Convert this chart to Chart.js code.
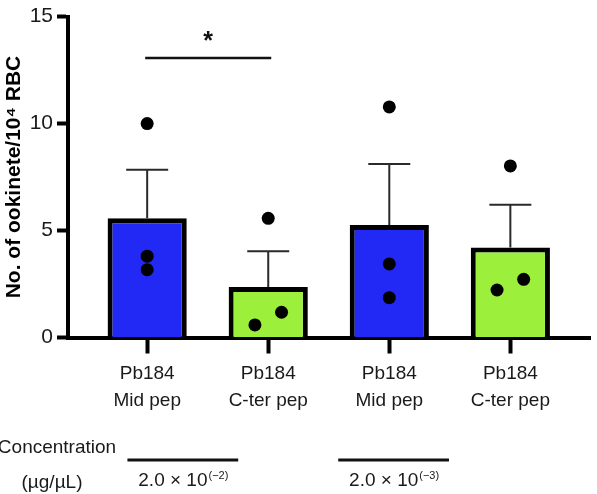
<!DOCTYPE html>
<html>
<head>
<meta charset="utf-8">
<script src="https://cdn.jsdelivr.net/npm/chart.js@4.4.1/dist/chart.umd.min.js"></script>
<style>
  html, body { margin: 0; padding: 0; background: #fff; }
  #wrap { width: 597px; height: 494px; }
</style>
</head>
<body>
<div id="wrap"><canvas id="ookChart" width="597" height="494"></canvas></div>
<script>
// data
const categories = [['Pb184', 'Mid pep'], ['Pb184', 'C-ter pep'], ['Pb184', 'Mid pep'], ['Pb184', 'C-ter pep']];
const means = [5.57, 2.36, 5.26, 4.21];
const errors = [2.27, 1.67, 2.85, 1.99];
const replicates = [[10.0, 3.8, 3.17], [5.57, 1.18, 0.59], [10.78, 3.44, 1.86], [8.02, 2.72, 2.22]];
const jitter = [[0, 0, 0], [0, 0.11, -0.11], [0, 0, 0], [0, 0.11, -0.11]];
const barColors = ['#2329f5', '#9cf03c', '#2329f5', '#9cf03c'];
const yTicks = [0, 5, 10, 15];

// significance bracket between the first two bars
const sigPair = [0, 1];
const sigLevel = 13.07;
const sigLabel = '*';

// concentration groups under the axis
const groupFrom = [-0.163, 1.578];
const groupTo = [0.752, 2.493];
const groupBase = ['2.0 × 10', '2.0 × 10'];
const groupExp = ['(−2)', '(−3)'];

const FONT = "'Liberation Sans', Arial, sans-serif";

const barData = means.map((m, i) => ({ x: i, y: m }));
const pointData = [];
replicates.forEach((vals, i) => {
  vals.forEach((v, j) => pointData.push({ x: i + jitter[i][j], y: v }));
});

// error bars, significance line and the concentration rows
const extras = {
  id: 'extras',
  afterDatasetDraw(chart, args) {
    if (args.index !== 0) return;
    const ctx = chart.ctx;
    const xs = chart.scales.x;
    const ys = chart.scales.y;
    ctx.save();
    ctx.strokeStyle = '#2a2a2a';
    ctx.lineWidth = 2;
    means.forEach((m, i) => {
      const x = xs.getPixelForValue(i);
      const yTop = ys.getPixelForValue(m + errors[i]);
      const yBar = ys.getPixelForValue(m);
      ctx.beginPath();
      ctx.moveTo(x, yBar);
      ctx.lineTo(x, yTop);
      ctx.moveTo(x - 21, yTop);
      ctx.lineTo(x + 21, yTop);
      ctx.stroke();
    });
    ctx.restore();
  },
  afterDraw(chart) {
    const ctx = chart.ctx;
    const xs = chart.scales.x;
    const ys = chart.scales.y;
    ctx.save();

    // significance
    const x1 = xs.getPixelForValue(sigPair[0]) - 2;
    const x2 = xs.getPixelForValue(sigPair[1]) + 3;
    const yS = ys.getPixelForValue(sigLevel);
    ctx.strokeStyle = '#111';
    ctx.lineWidth = 2.5;
    ctx.beginPath();
    ctx.moveTo(x1, yS);
    ctx.lineTo(x2, yS);
    ctx.stroke();
    ctx.fillStyle = '#111';
    ctx.font = 'bold 25px ' + FONT;
    ctx.textAlign = 'center';
    ctx.textBaseline = 'alphabetic';
    ctx.fillText(sigLabel, (x1 + x2) / 2, yS - 9);

    // concentration label
    ctx.fillStyle = '#1a1a1a';
    ctx.font = '19px ' + FONT;
    ctx.fillText('Concentration', 57, 453);
    ctx.fillText('(µg/µL)', 52, 488);

    // group lines and values
    groupFrom.forEach((g, i) => {
      const a = xs.getPixelForValue(g);
      const b = xs.getPixelForValue(groupTo[i]);
      ctx.strokeStyle = '#111';
      ctx.lineWidth = 3;
      ctx.beginPath();
      ctx.moveTo(a, 460);
      ctx.lineTo(b, 460);
      ctx.stroke();

      ctx.font = '19px ' + FONT;
      const w1 = ctx.measureText(groupBase[i]).width;
      ctx.font = '11px ' + FONT;
      const w2 = ctx.measureText(groupExp[i]).width;
      const left = (a + b) / 2 - (w1 + w2) / 2;
      ctx.textAlign = 'left';
      ctx.font = '19px ' + FONT;
      ctx.fillText(groupBase[i], left, 486);
      ctx.font = '11px ' + FONT;
      ctx.fillText(groupExp[i], left + w1 + 1, 479);
      ctx.textAlign = 'center';
    });
    ctx.restore();
  }
};

const ctx = document.getElementById('ookChart').getContext('2d');
new Chart(ctx, {
  type: 'bar',
  data: {
    datasets: [
      {
        data: barData,
        backgroundColor: barColors,
        borderColor: '#000',
        borderWidth: 5,
        borderSkipped: 'start',
        barPercentage: 0.654,
        categoryPercentage: 1,
        order: 2
      },
      {
        type: 'scatter',
        data: pointData,
        backgroundColor: '#000',
        borderWidth: 0,
        pointRadius: 6.5,
        order: 1
      }
    ]
  },
  options: {
    responsive: false,
    animation: false,
    layout: { padding: { top: 7.5, right: 1, bottom: 0, left: 0 } },
    plugins: {
      legend: { display: false },
      tooltip: { enabled: false }
    },
    scales: {
      x: {
        type: 'linear',
        min: -0.654,
        max: 3.662,
        offset: false,
        afterBuildTicks: (scale) => { scale.ticks = categories.map((c, i) => ({ value: i })); },
        afterFit: (scale) => { scale.height = 156.5; },
        ticks: {
          callback: (v) => categories[v],
          color: '#1a1a1a',
          font: { family: FONT, size: 19, lineHeight: 1.45 },
          padding: 6,
          maxRotation: 0,
          autoSkip: false
        },
        grid: {
          offset: false,
          drawOnChartArea: false,
          tickLength: 16,
          tickWidth: 4,
          tickColor: '#000'
        },
        border: { color: '#000', width: 4 }
      },
      y: {
        min: 0,
        max: 15,
        afterBuildTicks: (scale) => { scale.ticks = yTicks.map(v => ({ value: v })); },
        afterFit: (scale) => { scale.width = 68; },
        ticks: {
          color: '#1a1a1a',
          font: { family: FONT, size: 21 },
          padding: 4
        },
        grid: {
          drawOnChartArea: false,
          tickLength: 11,
          tickWidth: 4,
          tickColor: '#000'
        },
        border: { color: '#000', width: 4 },
        title: {
          display: true,
          text: 'No. of ookinete/10⁴ RBC',
          color: '#000',
          font: { family: FONT, size: 21, weight: 'bold' },
          padding: { top: 2, bottom: 0 }
        }
      }
    }
  },
  plugins: [extras]
});
</script>
</body>
</html>
